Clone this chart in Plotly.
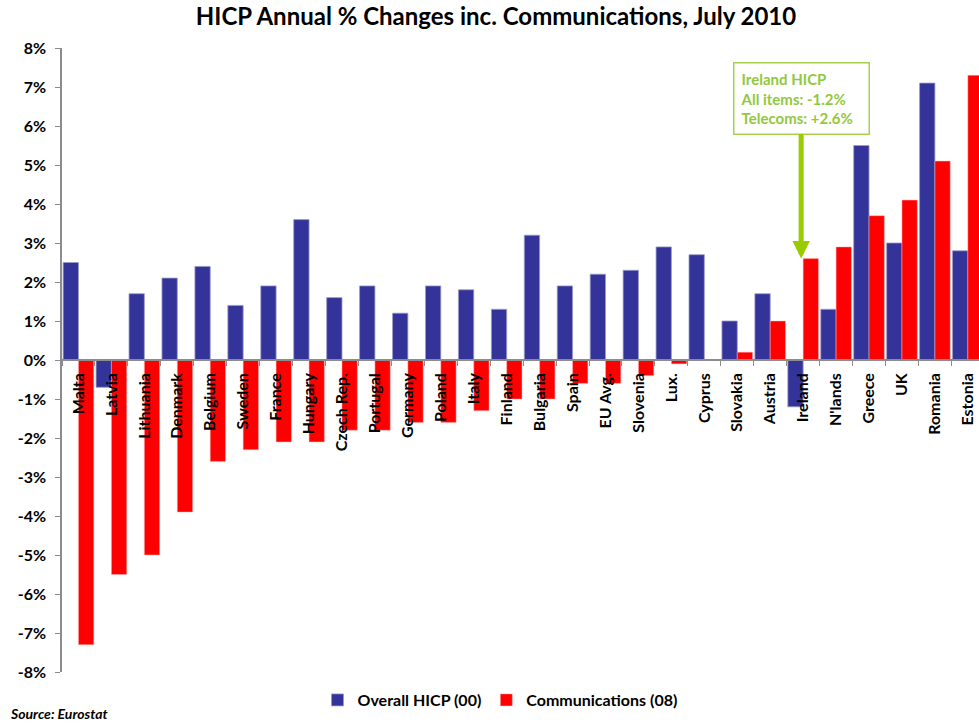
import plotly.graph_objects as go

countries = ["Malta", "Latvia", "Lithuania", "Denmark", "Belgium", "Sweden", "France", "Hungary",
             "Czech Rep.", "Portugal", "Germany", "Poland", "Italy", "Finland", "Bulgaria", "Spain",
             "EU Avg.", "Slovenia", "Lux.", "Cyprus", "Slovakia", "Austria", "Ireland", "N'lands",
             "Greece", "UK", "Romania", "Estonia"]
overall_hicp = [2.5, -0.7, 1.7, 2.1, 2.4, 1.4, 1.9, 3.6,
                1.6, 1.9, 1.2, 1.9, 1.8, 1.3, 3.2, 1.9,
                2.2, 2.3, 2.9, 2.7, 1.0, 1.7, -1.2, 1.3,
                5.5, 3.0, 7.1, 2.8]
communications = [-7.3, -5.5, -5.0, -3.9, -2.6, -2.3, -2.1, -2.1,
                  -1.8, -1.8, -1.6, -1.6, -1.3, -1.0, -1.0, -0.6,
                  -0.6, -0.4, -0.1, 0.0, 0.2, 1.0, 2.6, 2.9,
                  3.7, 4.1, 5.1, 7.3]
y_ticks = list(range(-8, 9))
y_tick_text = [f"{v}%" for v in y_ticks]

FONT = "Lato"
W, H = 979, 723
ML, MR, MT, MB = 62, 0, 48, 51
pw = W - ML - MR
ph = H - MT - MB

fig = go.Figure()
fig.add_trace(go.Bar(x=countries, y=overall_hicp, name="<b>Overall HICP (00)</b>",
                     marker=dict(color="#333399", line=dict(color="#9a9ac8", width=0.8))))
fig.add_trace(go.Bar(x=countries, y=communications, name="<b>Communications (08)</b>",
                     marker=dict(color="#FF0000", line=dict(color="#ffb0b0", width=0.5))))

fig.update_layout(
    width=W, height=H,
    margin=dict(l=ML, r=MR, t=MT, b=MB, autoexpand=False),
    plot_bgcolor="white", paper_bgcolor="white",
    barmode="group", bargap=0.07, bargroupgap=0,
    font=dict(family=FONT, color="black"),
    title=dict(text="<b>HICP Annual % Changes inc. Communications, July 2010</b>",
               x=496 / W, xref="container", xanchor="center",
               y=1 - 17 / H, yref="container", yanchor="middle",
               font=dict(family=FONT, size=24, color="black")),
    legend=dict(orientation="h", x=(500 - ML) / pw, xanchor="center", y=-(700 - (MT + ph)) / ph,
                yanchor="middle", font=dict(family=FONT, size=16, color="black"),
                traceorder="normal", itemwidth=30),
    xaxis=dict(type="category", range=[-0.5, -0.5 + pw / 32.94],
               tickvals=countries, ticktext=[f"<b>{c}</b>" for c in countries],
               anchor="free", position=0.5,
               showline=True, linecolor="#8c8c8c", linewidth=1.5,
               ticks="outside", tickson="boundaries", ticklen=5, tickcolor="#8c8c8c",
               tickangle=-90, tickfont=dict(family=FONT, size=16, color="black"),
               ticklabelstandoff=6,
               showgrid=False, zeroline=False, fixedrange=True),
    yaxis=dict(range=[-8, 8], tickvals=y_ticks, ticktext=[f"<b>{t}</b>" for t in y_tick_text],
               showline=True, linecolor="#8c8c8c", linewidth=1.5,
               ticks="outside", ticklen=5, tickcolor="#8c8c8c",
               tickfont=dict(family=FONT, size=16, color="black"),
               ticklabelstandoff=6,
               showgrid=False, zeroline=False, fixedrange=True),
)

green_text = "#92C83E"
green_line = "#99CC00"

# Info box
fig.add_annotation(
    xref="paper", yref="paper",
    x=(733 - ML) / pw, xanchor="left",
    y=1 - (62 - MT) / ph, yanchor="top",
    text="<b>Ireland HICP<br>All items: -1.2%<br>Telecoms: +2.6%</b>",
    showarrow=False, align="left",
    font=dict(family=FONT, size=15, color=green_text),
    bordercolor="#A8D050", borderwidth=1.5, borderpad=6, bgcolor="white",
    width=122, height=58,
)
# Arrow to Ireland communications bar
fig.add_annotation(
    x="Ireland", y=2.6, xref="x", yref="y", xshift=-2,
    text="", showarrow=True, arrowhead=2, arrowsize=0.7, arrowwidth=5,
    arrowcolor=green_line, ax=0, ay=-126, standoff=0,
)
# Source
fig.add_annotation(
    xref="paper", yref="paper", x=(8 - ML) / pw, xanchor="left",
    y=-(713 - (MT + ph)) / ph, yanchor="middle",
    text="<b><i>Source: Eurostat</i></b>", showarrow=False,
    font=dict(family=FONT, size=14, color="black"),
)

fig.write_html("out.html", config={"displayModeBar": False},
               post_script="document.body.style.margin='0';document.body.style.overflow='hidden';")
